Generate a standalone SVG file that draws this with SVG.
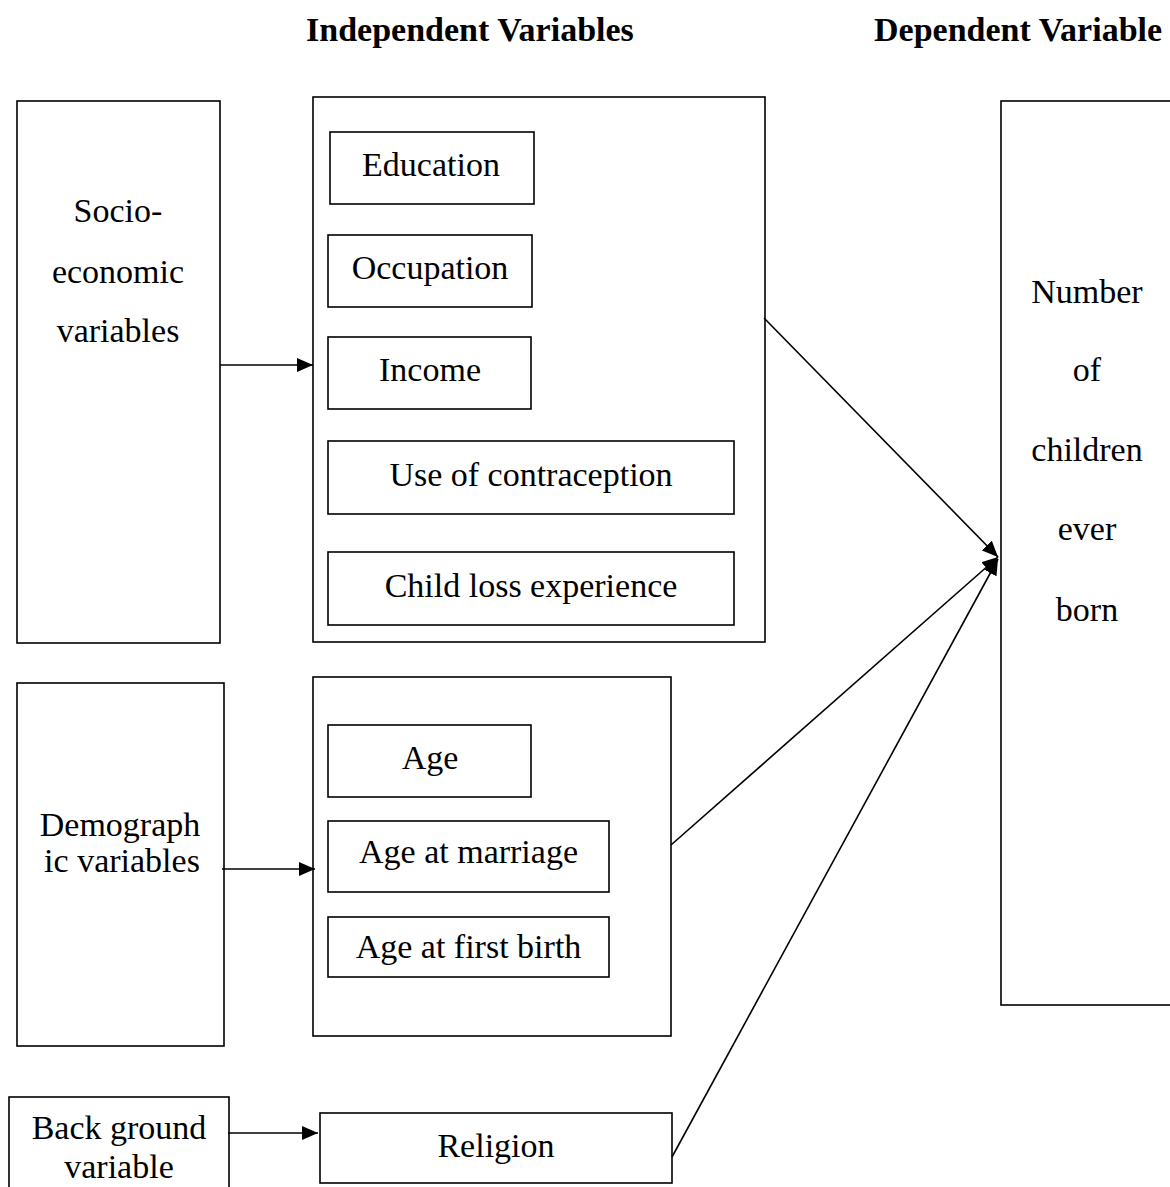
<svg xmlns="http://www.w3.org/2000/svg" width="1170" height="1187" viewBox="0 0 1170 1187">
<style>
.box{fill:#fff;stroke:#000;stroke-width:1.6}
.t{font-family:"Liberation Serif","Times New Roman",serif;font-size:34px;fill:#000;text-anchor:middle}
.h{font-family:"Liberation Serif","Times New Roman",serif;font-size:34px;font-weight:bold;fill:#000}
.c{stroke:#000;stroke-width:1.6;fill:none;marker-end:url(#ah)}
</style>
<defs>
<marker id="ah" markerUnits="userSpaceOnUse" markerWidth="17" markerHeight="14" refX="16" refY="7" orient="auto">
<path d="M0,0 L16,7 L0,14 Z" fill="#000"/>
</marker>
</defs>
<rect width="1170" height="1187" fill="#fff"/>
<text class="h" x="306" y="41">Independent Variables</text>
<text class="h" x="874" y="41">Dependent Variable</text>

<g id="socio">
<rect class="box" x="17" y="101" width="203" height="542"/>
<text class="t" x="118" y="222">Socio-</text>
<text class="t" x="118" y="283">economic</text>
<text class="t" x="118" y="342">variables</text>
</g>
<g id="socio-group">
<rect class="box" x="313" y="97" width="452" height="545"/>
</g>
<g id="education"><rect class="box" x="330" y="132" width="204" height="72"/><text class="t" x="431" y="176">Education</text></g>
<g id="occupation"><rect class="box" x="328" y="235" width="204" height="72"/><text class="t" x="430" y="279">Occupation</text></g>
<g id="income"><rect class="box" x="328" y="337" width="203" height="72"/><text class="t" x="430" y="381">Income</text></g>
<g id="contraception"><rect class="box" x="328" y="441" width="406" height="73"/><text class="t" x="531" y="486">Use of contraception</text></g>
<g id="childloss"><rect class="box" x="328" y="552" width="406" height="73"/><text class="t" x="531" y="597">Child loss experience</text></g>

<g id="demographic">
<rect class="box" x="17" y="683" width="207" height="363"/>
<text class="t" x="120" y="836">Demograph</text>
<text class="t" x="122" y="872">ic variables</text>
</g>
<g id="demo-group"><rect class="box" x="313" y="677" width="358" height="359"/></g>
<g id="age"><rect class="box" x="328" y="725" width="203" height="72"/><text class="t" x="430" y="769">Age</text></g>
<g id="agemarriage"><rect class="box" x="328" y="821" width="281" height="71"/><text class="t" x="468.5" y="863">Age at marriage</text></g>
<g id="agefirstbirth"><rect class="box" x="328" y="917" width="281" height="60"/><text class="t" x="468.5" y="958">Age at first birth</text></g>

<g id="background">
<rect class="box" x="9" y="1097" width="220" height="100"/>
<text class="t" x="119" y="1139">Back ground</text>
<text class="t" x="119" y="1178">variable</text>
</g>
<g id="religion"><rect class="box" x="320" y="1113" width="352" height="70"/><text class="t" x="496" y="1157">Religion</text></g>

<g id="dependent">
<rect class="box" x="1001" y="101" width="180" height="904"/>
<text class="t" x="1087" y="303">Number</text>
<text class="t" x="1087" y="381">of</text>
<text class="t" x="1087" y="461">children</text>
<text class="t" x="1087" y="540">ever</text>
<text class="t" x="1087" y="621">born</text>
</g>

<g id="connectors">
<line class="c" x1="220" y1="365" x2="313" y2="365"/>
<line class="c" x1="222" y1="869" x2="315" y2="869"/>
<line class="c" x1="228" y1="1133" x2="318" y2="1133"/>
<line class="c" x1="764" y1="318" x2="998" y2="557"/>
<line class="c" x1="671" y1="845" x2="998" y2="557"/>
<line class="c" x1="672" y1="1157" x2="998" y2="559"/>
</g>
</svg>
